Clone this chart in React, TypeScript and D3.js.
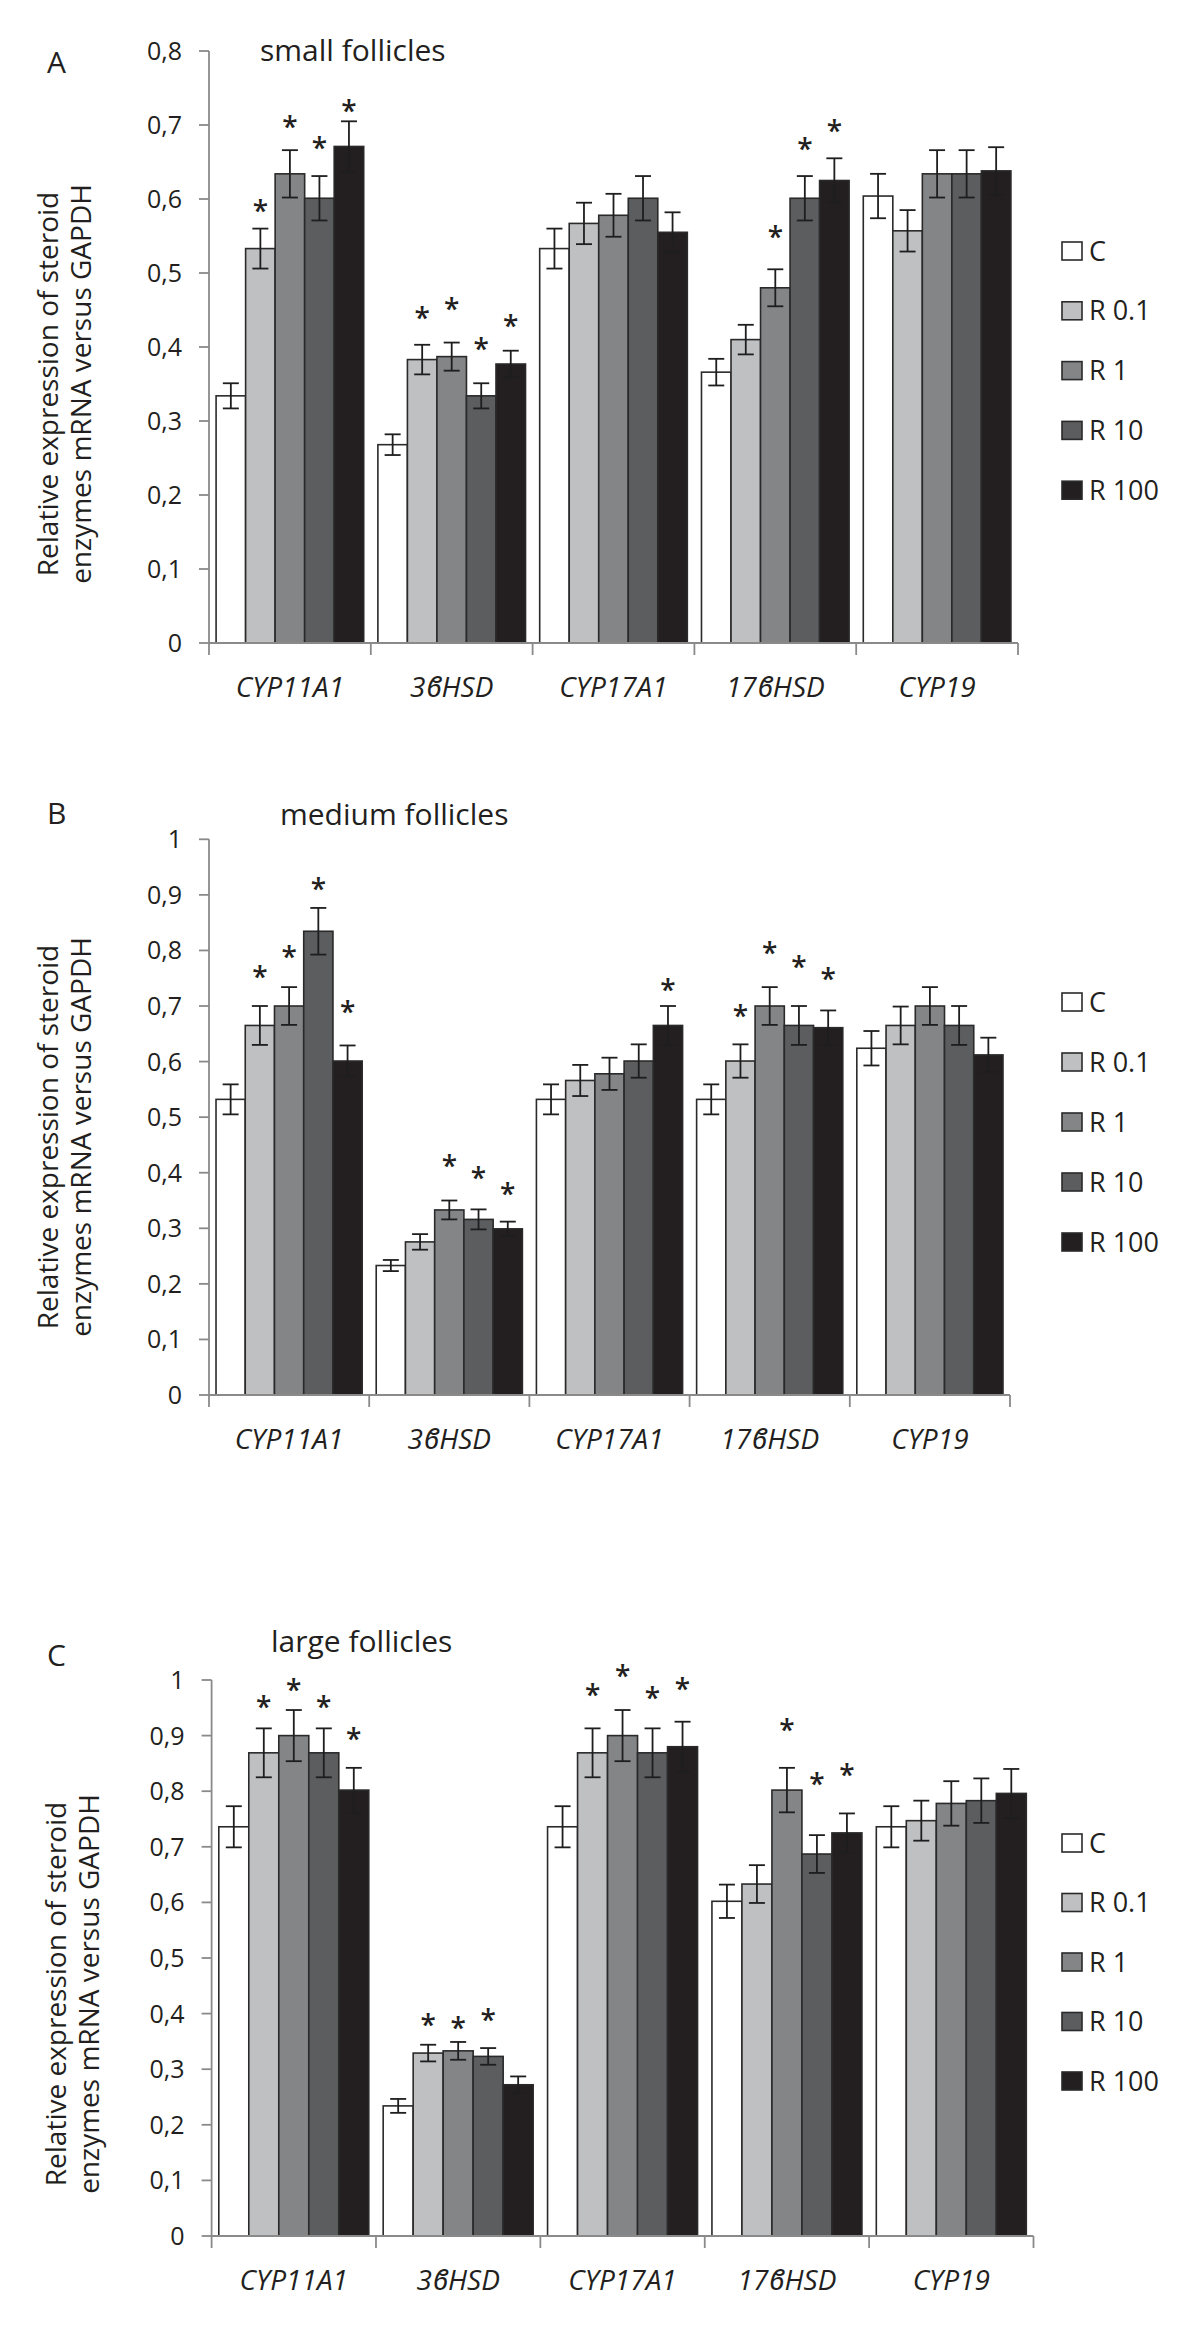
import React from "react";
import * as d3 from "d3";

// ---------- data ----------
const categories = ["CYP11A1", "3ϐHSD", "CYP17A1", "17ϐHSD", "CYP19"];
const series = ["C", "R 0.1", "R 1", "R 10", "R 100"];
const seriesColors = ["#ffffff", "#bfc0c2", "#848587", "#5c5d5f", "#231f20"];

// Panel A – small follicles (rows = categories, columns = series)
const meansA = [
  [0.334, 0.533, 0.634, 0.601, 0.671],
  [0.268, 0.383, 0.387, 0.334, 0.377],
  [0.533, 0.567, 0.578, 0.601, 0.555],
  [0.366, 0.41, 0.48, 0.601, 0.625],
  [0.604, 0.557, 0.634, 0.634, 0.638],
];
const errA = [
  [0.017, 0.027, 0.032, 0.03, 0.034],
  [0.014, 0.02, 0.019, 0.017, 0.018],
  [0.027, 0.028, 0.029, 0.03, 0.027],
  [0.018, 0.02, 0.025, 0.03, 0.03],
  [0.03, 0.028, 0.032, 0.032, 0.032],
];
const starsA = [
  [null, 0.592, 0.705, 0.676, 0.727],
  [null, 0.447, 0.459, 0.405, 0.436],
  [null, null, null, null, null],
  [null, null, 0.557, 0.675, 0.7],
  [null, null, null, null, null],
];

// Panel B – medium follicles
const meansB = [
  [0.532, 0.665, 0.7, 0.8345, 0.601],
  [0.233, 0.2755, 0.333, 0.316, 0.299],
  [0.532, 0.566, 0.578, 0.601, 0.665],
  [0.532, 0.601, 0.7, 0.665, 0.661],
  [0.624, 0.665, 0.7, 0.665, 0.612],
];
const errB = [
  [0.027, 0.035, 0.034, 0.042, 0.028],
  [0.01, 0.014, 0.017, 0.018, 0.013],
  [0.027, 0.028, 0.029, 0.03, 0.035],
  [0.027, 0.03, 0.034, 0.035, 0.031],
  [0.031, 0.034, 0.034, 0.035, 0.031],
];
const starsB = [
  [null, 0.763, 0.799, 0.92, 0.7],
  [null, null, 0.423, 0.401, 0.372],
  [null, null, null, null, 0.739],
  [null, 0.692, 0.805, 0.781, 0.759],
  [null, null, null, null, null],
];

// Panel C – large follicles
const meansC = [
  [0.736, 0.869, 0.9, 0.869, 0.802],
  [0.234, 0.329, 0.333, 0.323, 0.272],
  [0.736, 0.869, 0.9, 0.869, 0.88],
  [0.602, 0.633, 0.802, 0.687, 0.725],
  [0.736, 0.747, 0.778, 0.783, 0.796],
];
const errC = [
  [0.037, 0.044, 0.046, 0.044, 0.04],
  [0.0125, 0.015, 0.016, 0.015, 0.015],
  [0.037, 0.044, 0.046, 0.044, 0.045],
  [0.03, 0.034, 0.04, 0.034, 0.035],
  [0.037, 0.036, 0.04, 0.04, 0.044],
];
const starsC = [
  [null, 0.962, 0.993, 0.962, 0.905],
  [null, 0.39, 0.384, 0.398, null],
  [null, 0.983, 1.017, 0.978, 0.994],
  [null, null, 0.92, 0.824, 0.84],
  [null, null, null, null, null],
];

const yTitleLines = ["Relative expression of steroid", "enzymes mRNA versus GAPDH"];

// ---------- layout ----------
const FONT = "'Open Sans', 'Noto Sans', sans-serif";
const AXIS = "#8a8a8a";
const INK = "#231f20";

const panels = [
  {
    label: "A", title: "small follicles", means: meansA, errs: errA, stars: starsA, yMax: 0.8,
    x0: 209, x1: 1018, yBottom: 643, yTop: 51,
    titleX: 260, titleY: 61, labelY: 73,
    legendTop: 251, legendStep: 59.8,
    yTitleCy: 384, yTitleX: [58.4, 90.7],
  },
  {
    label: "B", title: "medium follicles", means: meansB, errs: errB, stars: starsB, yMax: 1,
    x0: 209, x1: 1010, yBottom: 1395, yTop: 839.3,
    titleX: 280, titleY: 825, labelY: 823.7,
    legendTop: 1002, legendStep: 60,
    yTitleCy: 1137, yTitleX: [58.4, 90.7],
  },
  {
    label: "C", title: "large follicles", means: meansC, errs: errC, stars: starsC, yMax: 1,
    x0: 211.6, x1: 1033.5, yBottom: 2236, yTop: 1680,
    titleX: 271, titleY: 1651.6, labelY: 1665.7,
    legendTop: 1843, legendStep: 59.5,
    yTitleCy: 1994, yTitleX: [66, 98.7],
  },
];

const fmtTick = (v: number) => {
  if (Math.abs(v) < 1e-9) return "0";
  if (Math.abs(v - 1) < 1e-9) return "1";
  return d3.format(".1f")(v).replace(".", ",");
};

function Panel({ p }: { p: any }) {
  const x = d3.scaleBand<string>().domain(categories).range([p.x0, p.x1]).paddingInner(0).paddingOuter(0);
  const xs = d3
    .scaleBand<string>()
    .domain(series)
    .range([0, x.bandwidth()])
    .paddingInner(0)
    .paddingOuter(0.24);
  const y = d3.scaleLinear().domain([0, p.yMax]).range([p.yBottom, p.yTop]);
  const ticks = d3.range(0, Math.round(p.yMax * 10) + 1).map((i) => i / 10);
  const bw = xs.bandwidth();
  const starFs = 28;

  return (
    <g>
      {/* panel label & title */}
      <text x={47} y={p.labelY} fontSize={30} fontFamily={FONT} fill={INK}>{p.label}</text>
      <text x={p.titleX} y={p.titleY} fontSize={30} fontFamily={FONT} fill={INK}>{p.title}</text>

      {/* y-axis title */}
      {yTitleLines.map((t, i) => (
        <text
          key={i}
          transform={`translate(${p.yTitleX[i]},${p.yTitleCy}) rotate(-90)`}
          textAnchor="middle"
          fontSize={28}
          fontFamily={FONT}
          fill={INK}
        >
          {t}
        </text>
      ))}

      {/* bars */}
      {categories.map((c, ci) =>
        series.map((s, si) => {
          const v = p.means[ci][si];
          const bx = (x(c) as number) + (xs(s) as number);
          return (
            <rect
              key={c + s}
              x={bx}
              y={y(v)}
              width={bw}
              height={y(0) - y(v)}
              fill={seriesColors[si]}
              stroke="#2a2a2a"
              strokeWidth={1.6}
            />
          );
        })
      )}

      {/* error bars */}
      {categories.map((c, ci) =>
        series.map((s, si) => {
          const v = p.means[ci][si];
          const e = p.errs[ci][si];
          const cx = (x(c) as number) + (xs(s) as number) + bw / 2;
          return (
            <g key={"e" + c + s} stroke="#1e1e1e" strokeWidth={1.8}>
              <line x1={cx} x2={cx} y1={y(v - e)} y2={y(v + e)} />
              <line x1={cx - 8} x2={cx + 8} y1={y(v + e)} y2={y(v + e)} />
              <line x1={cx - 8} x2={cx + 8} y1={y(v - e)} y2={y(v - e)} />
            </g>
          );
        })
      )}

      {/* significance stars */}
      {categories.map((c, ci) =>
        series.map((s, si) => {
          const st = p.stars[ci][si];
          if (st == null) return null;
          const cx = (x(c) as number) + (xs(s) as number) + bw / 2;
          return (
            <text
              key={"s" + c + s}
              x={cx}
              y={y(st) + starFs * 0.56}
              textAnchor="middle"
              fontSize={starFs}
              fontFamily={FONT}
              fontWeight={600}
              fill={INK}
            >
              *
            </text>
          );
        })
      )}

      {/* y axis */}
      <line x1={p.x0} x2={p.x0} y1={y(p.yMax)} y2={y(0)} stroke={AXIS} strokeWidth={1.8} />
      {ticks.map((t) => (
        <g key={"t" + t}>
          <line x1={p.x0 - 10} x2={p.x0} y1={y(t)} y2={y(t)} stroke={AXIS} strokeWidth={1.8} />
          <text
            x={p.x0 - 27}
            y={y(t) + 9}
            textAnchor="end"
            fontSize={25}
            fontFamily={FONT}
            fill={INK}
          >
            {fmtTick(t)}
          </text>
        </g>
      ))}

      {/* x axis */}
      <line x1={p.x0} x2={p.x1} y1={y(0)} y2={y(0)} stroke={AXIS} strokeWidth={1.8} />
      {[...categories.map((c) => x(c) as number), p.x1].map((bx, i) => (
        <line key={"xt" + i} x1={bx} x2={bx} y1={y(0)} y2={y(0) + 12} stroke={AXIS} strokeWidth={1.8} />
      ))}
      {categories.map((c) => (
        <text
          key={"xl" + c}
          x={(x(c) as number) + x.bandwidth() / 2}
          y={y(0) + 53.7}
          textAnchor="middle"
          fontSize={28}
          fontStyle="italic"
          fontFamily={FONT}
          fill={INK}
        >
          {c}
        </text>
      ))}

      {/* legend */}
      {series.map((s, si) => {
        const ly = p.legendTop + si * p.legendStep;
        return (
          <g key={"lg" + s}>
            <rect x={1062} y={ly - 9} width={20} height={18} fill={seriesColors[si]} stroke="#2a2a2a" strokeWidth={1.6} />
            <text x={1089} y={ly + 9.6} fontSize={27} fontFamily={FONT} fill={INK}>
              {s}
            </text>
          </g>
        );
      })}
    </g>
  );
}

export default function App() {
  return (
    <svg
      width={1200}
      height={2336}
      viewBox="0 0 1200 2336"
      style={{ position: "absolute", left: 0, top: 0, display: "block", background: "#fff" }}
    >
      <rect x={0} y={0} width={1200} height={2336} fill="#ffffff" />
      {panels.map((p) => (
        <Panel key={p.label} p={p} />
      ))}
    </svg>
  );
}
